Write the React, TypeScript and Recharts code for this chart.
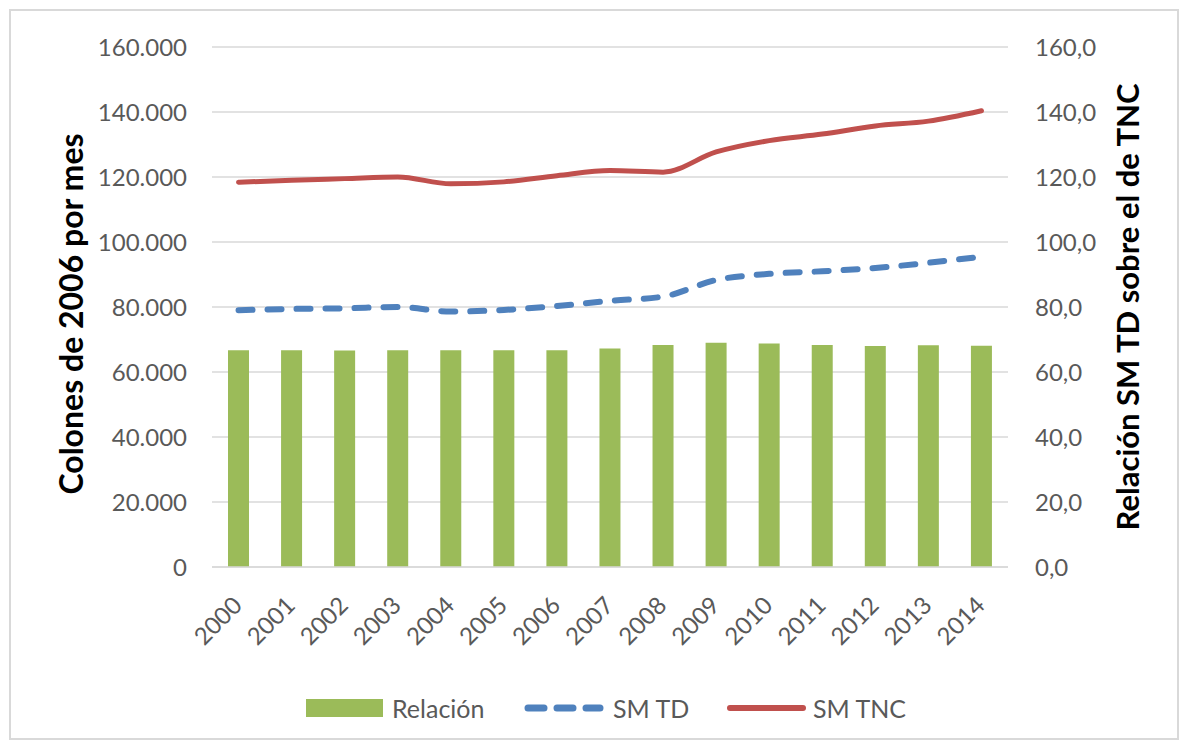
import { Bar, CartesianGrid, ComposedChart, Legend, Line, XAxis, YAxis } from "recharts";

const years = ["2000", "2001", "2002", "2003", "2004", "2005", "2006", "2007", "2008", "2009", "2010", "2011", "2012", "2013", "2014"];
const smTnc = [118400, 119000, 119500, 120000, 117900, 118500, 120400, 122000, 121500, 127700, 131200, 133200, 135700, 137200, 140400];
const smTd = [79000, 79400, 79600, 80000, 78600, 79100, 80300, 81900, 83200, 88300, 90200, 91000, 92000, 93600, 95500];
const relacion = [66.7, 66.7, 66.6, 66.7, 66.7, 66.7, 66.7, 67.2, 68.3, 69.0, 68.8, 68.3, 68.0, 68.2, 68.1];
const leftTicks = [0, 20000, 40000, 60000, 80000, 100000, 120000, 140000, 160000];
const rightTicks = [0, 20, 40, 60, 80, 100, 120, 140, 160];

const data = years.map((year, i) => ({ year, relacion: relacion[i], smTd: smTd[i], smTnc: smTnc[i] }));

const FONT = "Lato, 'Noto Sans', sans-serif";
const GREEN = "#9BBB59";
const BLUE = "#4F81BD";
const RED = "#C0504D";
const GRAY = "#595959";

const fmtLeft = (v: number) => v.toString().replace(/\B(?=(\d{3})+(?!\d))/g, ".");
const fmtRight = (v: number) => v.toFixed(1).replace(".", ",");

function YearTick(props: any) {
  const { x, y, payload } = props;
  const ax = x + 5;
  const ay = y + 40;
  return (
    <text x={ax} y={ay} transform={`rotate(-45, ${ax}, ${ay})`} textAnchor="end" fill={GRAY} fontSize={24} fontFamily={FONT}>
      {payload.value}
    </text>
  );
}

function LegendContent(props: any) {
  const payload = props.payload || [];
  const spots = [
    { sx: 306, sw: 77, tx: 392 },
    { sx: 524, sw: 80, tx: 613 },
    { sx: 726, sw: 81, tx: 813 },
  ];
  return (
    <div style={{ position: "relative", width: 1181, height: 40, fontFamily: FONT }}>
      {payload.map((p: any, i: number) => {
        const s = spots[i];
        let swatch;
        if (p.dataKey === "relacion") {
          swatch = <div style={{ position: "absolute", left: s.sx, top: 11, width: s.sw, height: 18, background: GREEN }} />;
        } else {
          const dashed = p.dataKey === "smTd";
          swatch = (
            <svg style={{ position: "absolute", left: s.sx, top: 14 }} width={s.sw} height={12}>
              <line
                x1={4}
                y1={6}
                x2={s.sw - 4}
                y2={6}
                stroke={dashed ? BLUE : RED}
                strokeWidth={dashed ? 7 : 6}
                strokeLinecap="round"
                strokeDasharray={dashed ? "16 13" : undefined}
              />
            </svg>
          );
        }
        return (
          <div key={p.value}>
            {swatch}
            <span style={{ position: "absolute", left: s.tx, top: 4, fontSize: 25, color: GRAY, lineHeight: "32px", whiteSpace: "nowrap" }}>
              {p.value}
            </span>
          </div>
        );
      })}
    </div>
  );
}

function LeftTitle() {
  const cx = 70;
  const cy = 314;
  return (
    <text x={cx} y={cy} transform={`rotate(-90, ${cx}, ${cy})`} textAnchor="middle" dominantBaseline="central" fontSize={32} fontWeight="bold" fontFamily={FONT} fill="#000">
      Colones de 2006 por mes
    </text>
  );
}

function RightTitle() {
  const cx = 1127;
  const cy = 307;
  return (
    <text x={cx} y={cy} transform={`rotate(-90, ${cx}, ${cy})`} textAnchor="middle" dominantBaseline="central" fontSize={31} fontWeight="bold" fontFamily={FONT} fill="#000">
      Relación SM TD sobre el de TNC
    </text>
  );
}

export default function App() {
  return (
    <div style={{ position: "absolute", left: 0, top: 0, width: 1181, height: 748, background: "#fff" }}>
      <div style={{ position: "absolute", left: 9, top: 9, width: 1166, height: 727, border: "2px solid #d9d9d9" }} />
      <ComposedChart
        width={1181}
        height={748}
        data={data}
        margin={{ top: 47, right: 0, left: 0, bottom: 20 }}
        barSize={21}
        style={{ position: "absolute", left: 0, top: 0 }}
      >
        <CartesianGrid vertical={false} stroke="#d9d9d9" strokeWidth={1.5} yAxisId="left" />
        <XAxis
          dataKey="year"
          height={121}
          tick={<YearTick />}
          tickLine={false}
          tickSize={0}
          tickMargin={0}
          axisLine={{ stroke: "#d9d9d9", strokeWidth: 1.5 }}
          interval={0}
        />
        <YAxis
          yAxisId="left"
          width={212}
          domain={[0, 160000]}
          ticks={leftTicks}
          tickFormatter={fmtLeft}
          axisLine={false}
          tickLine={false}
          tickSize={0}
          tickMargin={25}
          tick={{ fill: GRAY, fontSize: 24, fontFamily: FONT }}
          label={<LeftTitle />}
        />
        <YAxis
          yAxisId="right"
          orientation="right"
          width={173}
          domain={[0, 160]}
          ticks={rightTicks}
          tickFormatter={fmtRight}
          axisLine={false}
          tickLine={false}
          tickSize={0}
          tickMargin={27}
          tick={{ fill: GRAY, fontSize: 24, fontFamily: FONT, textAnchor: "start" }}
          label={<RightTitle />}
        />
        <Legend verticalAlign="bottom" content={<LegendContent />} wrapperStyle={{ left: 0, width: 1181 }} />
        <Bar yAxisId="right" dataKey="relacion" name="Relación" fill={GREEN} isAnimationActive={false} />
        <Line
          yAxisId="left"
          dataKey="smTd"
          name="SM TD"
          type="monotone"
          stroke={BLUE}
          strokeWidth={6}
          strokeDasharray="14 15"
          strokeLinecap="round"
          dot={false}
          activeDot={false}
          isAnimationActive={false}
        />
        <Line
          yAxisId="left"
          dataKey="smTnc"
          name="SM TNC"
          type="monotone"
          stroke={RED}
          strokeWidth={5}
          strokeLinecap="round"
          dot={false}
          activeDot={false}
          isAnimationActive={false}
        />
      </ComposedChart>
    </div>
  );
}
